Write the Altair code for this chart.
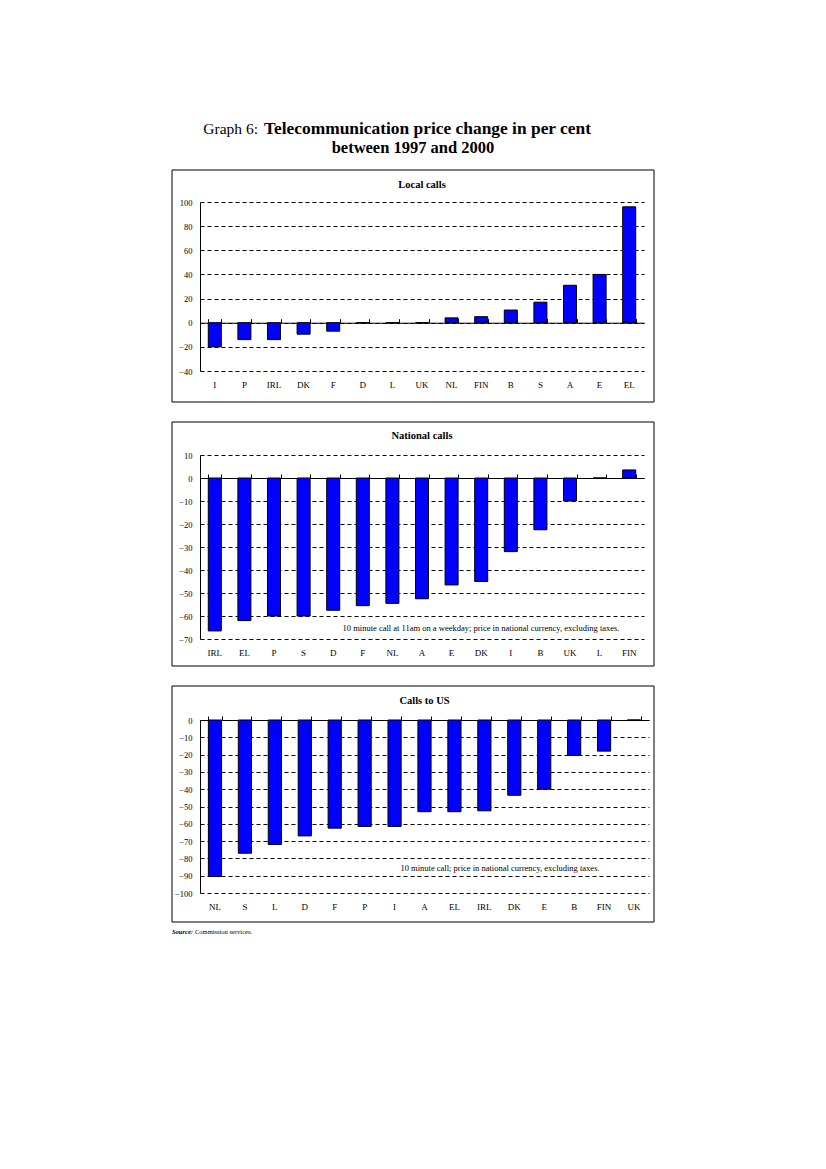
import altair as alt
import pandas as pd

# ---------------- data ----------------
local_cats = ["I", "P", "IRL", "DK", "F", "D", "L", "UK", "NL", "FIN", "B", "S", "A", "E", "EL"]
local_vals = [-20, -14, -14, -9.5, -7, 0, 0, 0, 4, 5, 10.5, 17, 31, 40, 96]

nat_cats = ["IRL", "EL", "P", "S", "D", "F", "NL", "A", "E", "DK", "I", "B", "UK", "L", "FIN"]
nat_vals = [-66.5, -62, -60, -60, -57.5, -55.5, -54.5, -52.5, -46.5, -45, -32, -22.5, -10, 0, 3.5]

us_cats = ["NL", "S", "L", "D", "F", "P", "I", "A", "EL", "IRL", "DK", "E", "B", "FIN", "UK"]
us_vals = [-90.5, -77, -72, -67, -62.5, -61.5, -61.5, -53, -53, -52.5, -43.5, -40, -20.5, -18, 0]

local_ticks = [-40, -20, 0, 20, 40, 60, 80, 100]
nat_ticks = [-70, -60, -50, -40, -30, -20, -10, 0, 10]
us_ticks = [-100, -90, -80, -70, -60, -50, -40, -30, -20, -10, 0]

FONT = "Liberation Serif"
one = pd.DataFrame({"a": [0]})


def txt(text, x, y, size, weight="normal", align="center", style="normal"):
    return alt.Chart(one).mark_text(
        text=text, fontSize=size, fontWeight=weight, align=align, baseline="middle",
        fontStyle=style, color="black", font=FONT
    ).encode(x=alt.value(x), y=alt.value(y))


def panel(cats, vals, ticks, width, height, title, ftop, fbot, fright, title_y, extras):
    df = pd.DataFrame({"c": cats, "v": vals})
    lo, hi = ticks[0], ticks[-1]
    zero_px = height * hi / (hi - lo)

    def ypix(v):
        return height * (hi - v) / (hi - lo)

    xscale = alt.Scale(domain=cats, paddingInner=0.56, paddingOuter=0.28)
    yscale = alt.Scale(domain=[lo, hi], nice=False, zero=False)

    frame = alt.Chart(one).mark_rect(fill="transparent", stroke="black", strokeWidth=1).encode(
        x=alt.value(-28), x2=alt.value(fright), y=alt.value(ftop), y2=alt.value(height + fbot)
    )
    bars = alt.Chart(df).mark_bar(color="#0000ff", stroke="black", strokeWidth=1).encode(
        x=alt.X("c:N", sort=cats, scale=xscale,
                axis=alt.Axis(orient="bottom", title=None, domain=False, ticks=False, grid=False,
                              labelAngle=0, labelPadding=9, labelFontSize=9, labelColor="black",
                              labelFont=FONT)),
        y=alt.Y("v:Q", scale=yscale,
                axis=alt.Axis(values=ticks, title=None, grid=True, gridDash=[4, 3], gridColor="black",
                              gridWidth=1, domainColor="black", ticks=False,
                              labelPadding=8, labelFontSize=8.5, labelColor="black", labelFont=FONT,
                              labelOverlap=False)),
        y2=alt.datum(0),
    )
    zero_axis = alt.Chart(df).mark_point(opacity=0).encode(
        x=alt.X("c:N", sort=cats, scale=xscale,
                axis=alt.Axis(orient="top", offset=-zero_px, labels=False, title=None, domain=True,
                              domainColor="black", domainWidth=1, ticks=True, tickBand="extent",
                              tickSize=4, tickColor="black", grid=False)),
        y=alt.value(0),
    )
    head = txt(title, width / 2, title_y, 10.5, weight="bold")
    layers = [frame, bars, zero_axis, head] + extras(ypix)
    return alt.layer(*layers).resolve_axis(x="independent").properties(width=width, height=height)


def local_extras(ypix):
    anchor = alt.Chart(one).mark_rect(fill="transparent", opacity=0).encode(
        x=alt.value(-192), x2=alt.value(-191), y=alt.value(-194), y2=alt.value(-193)
    )
    return [
        anchor,
        txt("Graph 6:", 58, -73, 15.5, align="right"),
        txt("Telecommunication price change in per cent", 64, -73, 17.4, weight="bold", align="left"),
        txt("between 1997 and 2000", 213, -54, 16.5, weight="bold"),
    ]


def nat_extras(ypix):
    return [txt("10 minute call at 11am on a weekday; price in national currency, excluding taxes.",
                281, ypix(-65.3), 8.5)]


def us_extras(ypix):
    return [
        txt("10 minute call; price in national currency, excluding taxes.", 300, ypix(-85.5), 8.5),
        txt("Source:", -28, 212, 6.5, weight="bold", align="left", style="italic"),
        txt("Commission services.", -5, 212, 6.5, align="left"),
    ]


p1 = panel(local_cats, local_vals, local_ticks, 444, 169, "Local calls", -32, 31, 454, -17, local_extras)
p2 = panel(nat_cats, nat_vals, nat_ticks, 444, 184, "National calls", -33, 27, 454, -19, nat_extras)
p3 = panel(us_cats, us_vals, us_ticks, 449, 173, "Calls to US", -34, 29, 454, -19, us_extras)

chart = alt.vconcat(p1, p2, p3, spacing=18).properties(
    padding={"left": 0, "top": 0, "right": 10, "bottom": 10}
).configure(font=FONT).configure_view(stroke=None)

chart.save("out.html", embed_options={"renderer": "svg", "actions": False})
